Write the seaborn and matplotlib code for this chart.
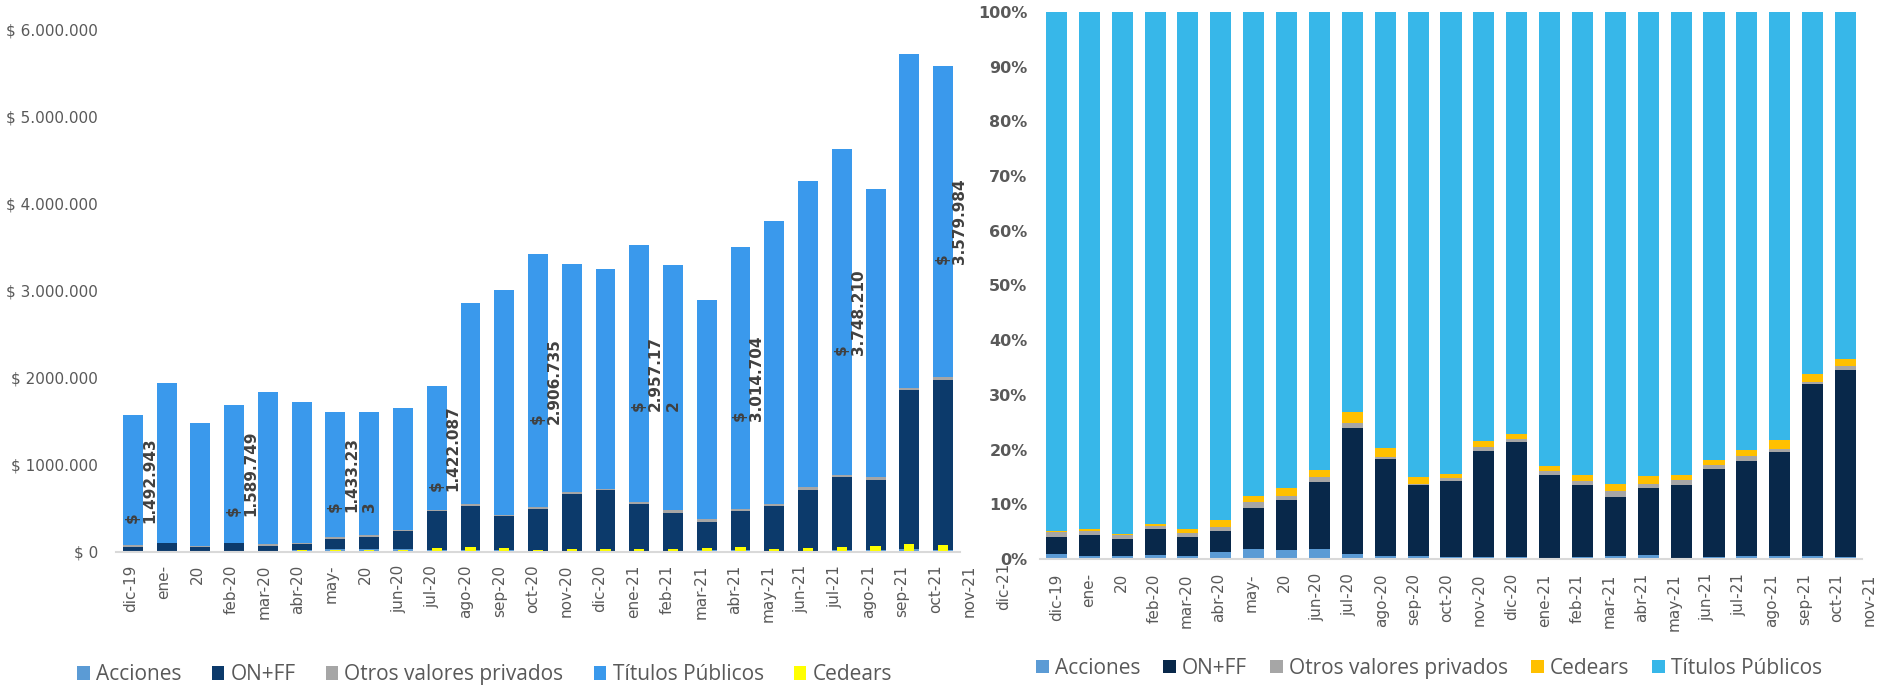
import numpy as np
import pandas as pd
import seaborn as sns
import matplotlib.pyplot as plt
import matplotlib.transforms as mtrans
from matplotlib.patches import Patch

# etiquetas del eje x tal como salen en el grafico original
etiquetas = ["dic-19", "ene-", "20", "feb-20", "mar-20", "abr-20", "may-", "20",
             "jun-20", "jul-20", "ago-20", "sep-20", "oct-20", "nov-20", "dic-20",
             "ene-21", "feb-21", "mar-21", "abr-21", "may-21", "jun-21", "jul-21",
             "ago-21", "sep-21", "oct-21", "nov-21"]

# ---- grafico izquierdo: montos ----
acciones = [13000, 10000, 7000, 12000, 9000, 21000, 29000, 26000, 30000, 16000, 14000, 15000, 10000,
            10000, 10000, 7000, 10000, 14000, 25000, 8000, 13000, 23000, 21000, 29000, 17000]
on_ff = [45000, 87000, 51000, 85000, 60000, 71000, 117000, 147000, 212000, 456000, 515000, 399000,
         485000, 658000, 704000, 545000, 439000, 331000, 447000, 521000, 697000, 840000, 804000,
         1832000, 1959000]
otros = [19000, 7000, 7000, 6000, 23000, 8000, 23000, 19000, 11000, 11000, 23000, 11000, 19000,
         19000, 6000, 19000, 31000, 31000, 19000, 23000, 34000, 19000, 35000, 23000, 31000]
titulos = [1492943, 1841000, 1416000, 1589749, 1746000, 1623000, 1433233, 1416000, 1401000,
           1422087, 2310000, 2586000, 2906735, 2624000, 2533000, 2957172, 2819000, 2520000,
           3014704, 3254000, 3522000, 3748210, 3314000, 3843000, 3579984]
cedears = [2000, 4000, 4000, 7000, 13000, 22000, 18000, 23000, 22000, 38000, 49000, 39000, 24000,
           36000, 29000, 35000, 36000, 38000, 49000, 34000, 43000, 53000, 63000, 86000, 73000]

# rotulos de titulos publicos (cada 3 meses)
rotulo_pos = [0, 3, 6, 9, 12, 15, 18, 21, 24]
rotulo_txt = ["$\n1.492.943", "$\n1.589.749", "$\n1.433.23\n3", "$\n1.422.087", "$\n2.906.735",
              "$\n2.957.17\n2", "$\n3.014.704", "$\n3.748.210", "$\n3.579.984"]

yticks_izq = ["$ 0", "$ 1000.000", "$ 2000.000", "$ 3.000.000", "$ 4.000.000", "$ 5.000.000",
              "$ 6.000.000"]

# ---- grafico derecho: participacion (%) ----
pct_acciones = [0.85, 0.5, 0.5, 0.7, 0.5, 1.2, 1.8, 1.6, 1.8, 0.85, 0.5, 0.5, 0.3, 0.3, 0.3, 0.2,
                0.3, 0.5, 0.7, 0.2, 0.3, 0.5, 0.5, 0.5, 0.3]
pct_on = [3.25, 3.8, 3.1, 4.7, 3.5, 3.85, 7.45, 9.1, 12.2, 23.05, 17.7, 12.95, 13.9, 19.5, 21.0,
          15.1, 13.15, 10.9, 12.2, 13.4, 16.1, 17.5, 19.0, 31.5, 34.3]
pct_otros = [0.8, 0.9, 0.7, 0.6, 0.7, 0.75, 1.25, 0.9, 0.9, 0.9, 0.4, 0.25, 0.6, 0.6, 0.7, 0.7,
             0.75, 1.1, 0.85, 0.8, 0.7, 0.75, 0.7, 0.3, 0.6]
pct_cedears = [0.15, 0.2, 0.3, 0.4, 0.7, 1.3, 1.1, 1.4, 1.35, 2.0, 1.7, 1.3, 0.7, 1.1, 0.9, 1.0,
               1.1, 1.3, 1.4, 0.9, 1.0, 1.15, 1.5, 1.5, 1.3]
pct_titulos = [94.95, 94.6, 95.4, 93.6, 94.6, 92.9, 88.4, 87.0, 83.75, 73.2, 79.7, 85.0, 84.5,
               78.5, 77.1, 83.0, 84.7, 86.2, 84.85, 84.7, 81.9, 80.1, 78.3, 66.2, 63.5]

gris_txt = "#595959"
gris_eje = "#D9D9D9"

sns.set_style("white")
plt.rcParams["font.family"] = ["DejaVu Sans"]

fig = plt.figure(figsize=(18.93, 6.88), dpi=100)
ax1 = fig.add_axes([0.0613, 0.1981, 0.4458, 0.7583])
ax2 = fig.add_axes([0.5494, 0.1875, 0.4342, 0.7951])

# apilado: se dibujan los acumulados de arriba hacia abajo
izq = pd.DataFrame({"pos": range(len(titulos)), "acc": acciones, "on": on_ff, "otros": otros,
                    "tp": titulos, "ced": cedears})
izq["c_on"] = izq["acc"] + izq["on"]
izq["c_otros"] = izq["c_on"] + izq["otros"]
izq["c_tp"] = izq["c_otros"] + izq["tp"]

capas_izq = [("c_tp", "#3A99EC"), ("c_otros", "#A6A6A6"), ("c_on", "#0C3A6B"), ("acc", "#5B9BD5")]
for col, color in capas_izq:
    sns.barplot(data=izq, x="pos", y=col, color=color, width=0.59, errorbar=None,
                saturation=1, linewidth=0, ax=ax1)
sns.barplot(data=izq, x="pos", y="ced", color="#FFFF00", width=0.3, errorbar=None,
            saturation=1, linewidth=0, ax=ax1)

for p, txt in zip(rotulo_pos, rotulo_txt):
    mid = izq["c_otros"][p] + izq["tp"][p] / 2
    ax1.text(p - 0.25, mid, txt, rotation=90, ha="left", va="center", multialignment="left",
             fontsize=11, fontweight="bold", color="#404040")

ax1.set_ylim(0, 6000000)
ax1.set_yticks(np.arange(0, 6000001, 1000000))
ax1.set_yticklabels(yticks_izq)
ax1.tick_params(axis="y", length=0, pad=13, labelsize=11, labelcolor=gris_txt)

der = pd.DataFrame({"pos": range(len(pct_titulos)), "acc": pct_acciones, "on": pct_on,
                    "otros": pct_otros, "ced": pct_cedears, "tp": pct_titulos})
der["c_on"] = der["acc"] + der["on"]
der["c_otros"] = der["c_on"] + der["otros"]
der["c_ced"] = der["c_otros"] + der["ced"]
der["c_tp"] = der["c_ced"] + der["tp"]

capas_der = [("c_tp", "#37B7E9"), ("c_ced", "#FFC000"), ("c_otros", "#A6A6A6"),
             ("c_on", "#08284A"), ("acc", "#5B9BD5")]
for col, color in capas_der:
    sns.barplot(data=der, x="pos", y=col, color=color, width=0.64, errorbar=None,
                saturation=1, linewidth=0, ax=ax2)

ax2.set_ylim(0, 100)
ax2.set_yticks(np.arange(0, 101, 10))
ax2.set_yticklabels([f"{v}%" for v in range(0, 101, 10)], fontweight="bold")
ax2.tick_params(axis="y", length=0, pad=9, labelsize=11.5, labelcolor=gris_txt)

for ax in (ax1, ax2):
    ax.set_xlabel("")
    ax.set_ylabel("")
    ax.set_xlim(-0.5, 24.5)
    ax.set_xticks(np.arange(-0.5, 25, 1))
    ax.set_xticklabels([])
    ax.tick_params(axis="x", length=6, width=1.5, color=gris_eje)
    for s in ("top", "left", "right"):
        ax.spines[s].set_visible(False)
    ax.spines["bottom"].set_color(gris_eje)
    ax.spines["bottom"].set_linewidth(1.5)
    ax.grid(False)

# etiquetas de meses (quedan corridas como en el original)
tr1 = mtrans.blended_transform_factory(ax1.transData, ax1.transAxes)
for i, t in enumerate(etiquetas):
    ax1.text(0.994 * i - 0.08, -0.025, t, transform=tr1, rotation=90, ha="center", va="top",
             fontsize=11, color=gris_txt, clip_on=False)

tr2 = mtrans.blended_transform_factory(ax2.transData, ax2.transAxes)
ax2.text(-1.62, -0.007, "dic-21", transform=tr2, rotation=90, ha="center", va="top",
         fontsize=11, color=gris_txt, clip_on=False)
for i, t in enumerate(etiquetas):
    ax2.text(0.989 * i, -0.026, t, transform=tr2, rotation=90, ha="center", va="top",
             fontsize=11, color=gris_txt, clip_on=False)

# leyendas
ley_izq = [("Acciones", "#5B9BD5"), ("ON+FF", "#0C3A6B"), ("Otros valores privados", "#A6A6A6"),
           ("Títulos Públicos", "#3A99EC"), ("Cedears", "#FFFF00")]
ley_der = [("Acciones", "#5B9BD5"), ("ON+FF", "#08284A"), ("Otros valores privados", "#A6A6A6"),
           ("Cedears", "#FFC000"), ("Títulos Públicos", "#37B7E9")]

for items, cx, cy, sep in [(ley_izq, 0.256, 0.019, 1.45), (ley_der, 0.755, 0.029, 1.1)]:
    handles = [Patch(facecolor=c, edgecolor="none") for _, c in items]
    fig.legend(handles, [n for n, _ in items], loc="center", bbox_to_anchor=(cx, cy), ncol=5,
               frameon=False, handlelength=0.6, handleheight=0.6, handletextpad=0.3,
               columnspacing=sep, labelcolor=gris_txt,
               prop={"family": "Open Sans", "size": 15}, borderpad=0, borderaxespad=0)

fig.savefig("out.png", dpi=100)
